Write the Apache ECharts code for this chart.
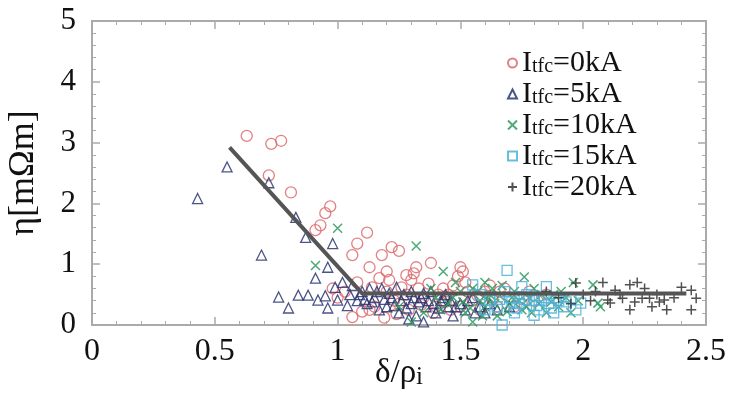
<!DOCTYPE html>
<html>
<head>
<meta charset="utf-8">
<script src="https://cdn.jsdelivr.net/npm/echarts@6/dist/echarts.min.js"></script>
<style>
  html, body { margin: 0; padding: 0; background: #fff; }
  #chart { width: 731px; height: 394px; }
</style>
</head>
<body>
<div id="chart"></div>
<script>
// tick labels
const xTicks = [0, 0.5, 1, 1.5, 2, 2.5];
const yTicks = [0, 1, 2, 3, 4, 5];

const seriesNames = ["Itfc=0kA", "Itfc=5kA", "Itfc=10kA", "Itfc=15kA", "Itfc=20kA"];

// [δ/ρi, η] pairs
const data0kA = [
    [0.63, 3.11], [0.73, 2.98], [0.77, 3.03], [0.72, 2.46], [0.81, 2.18], [0.97, 1.95], [0.95, 1.84],
    [0.93, 1.64], [0.91, 1.56], [1.12, 1.52], [1.08, 1.34], [1.06, 1.15], [1.18, 1.15], [1.22, 1.28],
    [1.25, 1.22], [1.13, 0.95], [1.38, 1.02], [1.32, 0.95], [1.17, 0.77], [1.28, 0.82], [1.21, 0.74],
    [1.5, 0.95], [1.49, 0.8], [1.43, 0.6], [1.31, 0.85], [1.3, 0.74], [1.51, 0.88], [1.06, 0.13],
    [1.1, 0.22], [1.13, 0.25], [1.19, 0.12], [1.15, 0.3], [1.25, 0.35], [1.35, 0.45], [1.4, 0.3],
    [1.45, 0.5], [1.55, 0.4], [1.6, 0.55], [1.65, 0.3], [1.7, 0.45], [1.75, 0.35], [1.2, 0.55],
    [1.28, 0.5], [1.33, 0.6], [1.58, 0.25], [1.62, 0.65], [1.68, 0.6], [1.8, 0.4], [1.85, 0.5],
    [1.03, 0.55], [0.98, 0.6], [1.0, 0.45], [1.08, 0.7], [1.14, 0.62], [1.23, 0.4], [1.26, 0.62],
    [1.29, 0.25], [1.34, 0.33], [1.37, 0.68], [1.41, 0.5], [1.44, 0.38], [1.47, 0.65], [1.5, 0.3],
    [1.53, 0.55], [1.57, 0.48], [1.63, 0.42], [1.66, 0.55], [1.72, 0.3], [1.78, 0.55], [1.24, 0.18],
    [1.39, 0.2], [1.46, 0.25], [1.2, 0.88], [1.52, 0.7]
];
const data5kA = [
    [0.43, 2.08], [0.55, 2.6], [0.69, 1.15], [0.72, 2.34], [0.83, 1.77], [0.87, 1.44], [0.98, 1.34],
    [0.96, 0.95], [0.91, 0.77], [0.76, 0.46], [0.8, 0.28], [0.84, 0.49], [0.88, 0.49], [0.92, 0.41],
    [0.96, 0.28], [1.0, 0.41], [0.95, 0.48], [0.99, 0.62], [1.02, 0.7], [1.05, 0.5], [1.08, 0.4],
    [1.1, 0.55], [1.12, 0.35], [1.15, 0.45], [1.18, 0.6], [1.2, 0.3], [1.22, 0.45], [1.25, 0.2],
    [1.27, 0.5], [1.3, 0.35], [1.32, 0.15], [1.34, 0.45], [1.36, 0.3], [1.38, 0.55], [1.4, 0.2],
    [1.42, 0.4], [1.45, 0.3], [1.47, 0.15], [1.5, 0.35], [1.52, 0.25], [1.55, 0.45], [1.58, 0.3],
    [1.6, 0.2], [1.13, 0.6], [1.06, 0.65], [1.17, 0.25], [1.24, 0.62], [1.44, 0.5], [1.3, 0.55],
    [1.04, 0.32], [1.09, 0.5], [1.11, 0.42], [1.14, 0.38], [1.16, 0.55], [1.19, 0.42], [1.21, 0.52],
    [1.23, 0.32], [1.26, 0.4], [1.28, 0.28], [1.31, 0.45], [1.33, 0.38], [1.35, 0.52], [1.37, 0.4],
    [1.39, 0.35], [1.41, 0.28], [1.43, 0.45], [1.46, 0.4], [1.48, 0.3], [1.53, 0.4], [1.56, 0.2],
    [1.62, 0.35], [1.65, 0.25], [1.7, 0.3], [1.29, 0.1], [1.35, 0.05]
];
const data10kA = [
    [1.0, 1.59], [0.91, 0.98], [1.32, 1.3], [1.43, 0.88], [1.76, 0.79], [2.06, 0.36], [2.04, 0.66],
    [1.96, 0.7], [2.07, 0.3], [1.3, 0.05], [1.35, 0.2], [1.4, 0.45], [1.45, 0.35], [1.5, 0.55],
    [1.52, 0.2], [1.55, 0.6], [1.58, 0.4], [1.6, 0.3], [1.62, 0.5], [1.65, 0.15], [1.67, 0.65],
    [1.7, 0.35], [1.72, 0.55], [1.75, 0.25], [1.78, 0.45], [1.8, 0.6], [1.82, 0.35], [1.85, 0.2],
    [1.88, 0.5], [1.9, 0.3], [1.93, 0.45], [1.55, 0.05], [1.48, 0.7], [1.6, 0.7], [1.25, 0.3],
    [1.38, 0.6], [1.42, 0.25], [1.47, 0.45], [1.51, 0.38], [1.54, 0.28], [1.57, 0.55], [1.59, 0.15],
    [1.61, 0.42], [1.64, 0.35], [1.66, 0.48], [1.69, 0.22], [1.71, 0.45], [1.74, 0.4], [1.77, 0.3],
    [1.79, 0.2], [1.83, 0.5], [1.87, 0.38], [1.91, 0.55], [1.95, 0.2], [1.98, 0.4], [1.63, 0.6]
];
const data15kA = [
    [1.69, 0.9], [1.75, 0.63], [1.85, 0.63], [1.8, 0.16], [1.67, 0.0], [1.55, 0.66], [1.99, 0.36],
    [1.62, 0.4], [1.65, 0.3], [1.7, 0.45], [1.72, 0.2], [1.74, 0.35], [1.78, 0.4], [1.82, 0.25],
    [1.86, 0.35], [1.88, 0.2], [1.9, 0.4], [1.92, 0.3], [1.95, 0.45], [1.6, 0.25], [1.68, 0.55],
    [1.77, 0.5], [1.84, 0.45], [1.97, 0.25], [1.58, 0.5], [1.73, 0.28], [1.76, 0.42], [1.81, 0.32],
    [1.83, 0.4], [1.87, 0.28], [1.89, 0.45], [1.93, 0.38], [1.71, 0.38], [1.66, 0.42], [1.8, 0.48]
];
const data20kA = [
    [1.97, 0.69], [2.08, 0.7], [2.13, 0.57], [2.19, 0.66], [2.22, 0.7], [2.25, 0.6], [2.11, 0.36],
    [2.19, 0.25], [2.21, 0.38], [2.24, 0.44], [2.28, 0.3], [2.31, 0.38], [2.34, 0.25], [2.33, 0.41],
    [2.4, 0.62], [2.44, 0.57], [2.46, 0.44], [2.44, 0.25], [2.27, 0.44], [2.16, 0.44], [2.1, 0.41],
    [1.85, 0.55], [1.9, 0.45], [1.95, 0.35], [2.0, 0.5], [2.03, 0.4], [2.05, 0.55], [2.15, 0.5],
    [2.3, 0.5], [2.37, 0.45]
];
// fitted trend line
const fitLine = [[0.56, 2.92], [1.1, 0.52], [2.42, 0.52]];

const serif = "'Liberation Serif', 'Times New Roman', serif";
const frameColor = "#aaaaaa";

let chart = echarts.init(document.getElementById("chart"));

function frameAxis(pos, showLabel) {
    return {
        type: "value",
        position: pos,
        min: 0,
        interval: pos === "top" || pos === "bottom" ? 0.5 : 1,
        max: pos === "top" || pos === "bottom" ? xTicks[xTicks.length - 1] : yTicks[yTicks.length - 1],
        axisLine: { show: true, onZero: false, lineStyle: { color: frameColor, width: 2 } },
        axisTick: { show: true, inside: true, length: 8, lineStyle: { color: frameColor, width: 1.5 } },
        minorTick: { show: true, splitNumber: 5, length: 4, lineStyle: { color: frameColor } },
        splitLine: { show: false },
        axisLabel: { show: showLabel },
    };
}

let xMain = frameAxis("bottom", true);
xMain.axisLabel = { show: true, fontFamily: serif, fontSize: 32, color: "#111", margin: 11 };
xMain.name = "{a|δ/ρ}{b|i}";
xMain.nameLocation = "middle";
xMain.nameGap = 32;
xMain.nameMoveOverlap = false;
xMain.nameTextStyle = {
    rich: {
        a: { fontFamily: serif, fontSize: 33, color: "#111" },
        b: { fontFamily: serif, fontSize: 25, color: "#111", verticalAlign: "bottom" }
    }
};

let yMain = frameAxis("left", true);
yMain.axisLabel = { show: true, fontFamily: serif, fontSize: 31, color: "#111", margin: 16 };
yMain.name = "η[mΩm]";
yMain.nameLocation = "middle";
yMain.nameGap = 50;
yMain.nameMoveOverlap = false;
yMain.nameTextStyle = { fontFamily: serif, fontSize: 36, color: "#111" };

function scatter(name, data, symbol, size, color, width) {
    return {
        name: name,
        type: "scatter",
        data: data,
        symbol: symbol,
        symbolSize: size,
        itemStyle: { color: "rgba(0,0,0,0)", borderColor: color, borderWidth: width, opacity: 0.85 },
        emphasis: { disabled: true }
    };
}

const crossPath = "path://M0,0L10,10M10,0L0,10";
const plusPath = "path://M5,0L5,10M0,5L10,5";

let option = {
    animation: false,
    backgroundColor: "#fff",
    grid: { left: 92, right: 25, top: 21, bottom: 69, outerBoundsMode: "none" },
    legend: {
        orient: "vertical",
        left: 502,
        top: 43,
        itemWidth: 9,
        itemHeight: 9,
        itemGap: 1,
        data: seriesNames,
        formatter: function (name) {
            return "{a|I}{b|tfc}{a|" + name.slice(4) + "}";
        },
        textStyle: {
            rich: {
                a: { fontFamily: serif, fontSize: 30, color: "#111" },
                b: { fontFamily: serif, fontSize: 20, color: "#111", verticalAlign: "bottom", padding: [0, 0, 1, 0] }
            }
        }
    },
    xAxis: [xMain, frameAxis("top", false)],
    yAxis: [yMain, frameAxis("right", false)],
    series: [
        scatter(seriesNames[0], data0kA, "circle", 11, "#dd6b6e", 1.3),
        scatter(seriesNames[1], data5kA, "triangle", 10, "#2b3673", 1.3),
        scatter(seriesNames[2], data10kA, crossPath, 9, "#2f9a60", 1.5),
        scatter(seriesNames[3], data15kA, "rect", 10, "#4fb2da", 1.3),
        scatter(seriesNames[4], data20kA, plusPath, 10, "#333333", 1.5),
        {
            name: "fit",
            type: "line",
            data: fitLine,
            symbol: "none",
            lineStyle: { color: "#555555", width: 4 },
            z: 5
        }
    ]
};
chart.setOption(option);
</script>
</body>
</html>
